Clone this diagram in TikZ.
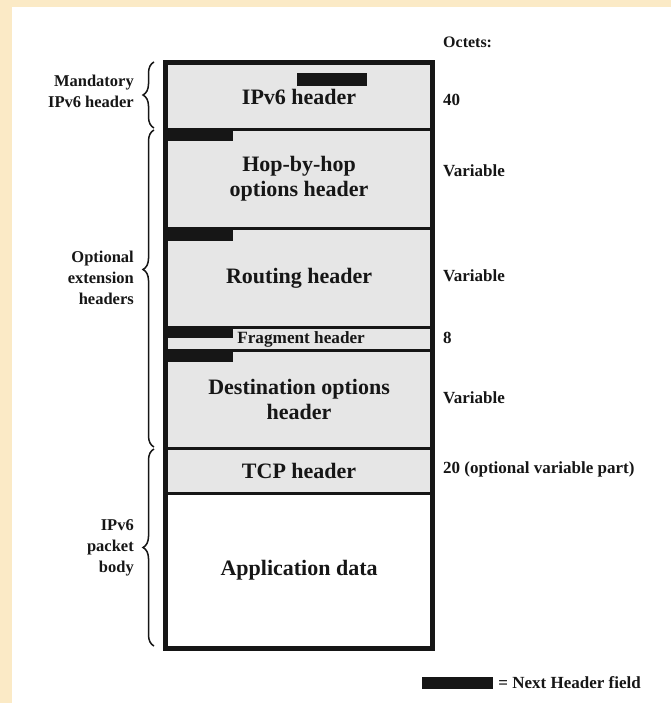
\documentclass[tikz,border=0pt]{standalone}
\usepackage{fontspec}
\setmainfont{Liberation Serif}
\usetikzlibrary{decorations.pathreplacing}
\definecolor{cream}{RGB}{251,234,198}
\definecolor{hdrgray}{RGB}{230,230,230}
\definecolor{ink}{RGB}{22,22,22}
\begin{document}
\begin{tikzpicture}[x=1pt,y=1pt,
  hdr/.style={draw=ink, line width=3.2pt, fill=hdrgray, minimum width=265pt,
    inner sep=0pt, align=center, text=ink, anchor=north west,
    font=\fontsize{22}{25}\selectfont\bfseries},
  body/.style={hdr, fill=white},
  nhbar/.style={fill=ink, draw=none, inner sep=0pt, minimum width=68pt, minimum height=13pt},
  side/.style={text=ink, inner sep=0pt, align=right, anchor=east,
    font=\fontsize{16.5}{21}\selectfont\bfseries},
  size/.style={text=ink, inner sep=0pt, anchor=west,
    font=\fontsize{17}{20}\selectfont\bfseries},
  curly/.style={draw=ink, line width=1.5pt, decorate,
    decoration={brace, amplitude=11pt}}
]
% page background and white sheet
\fill[cream] (0,0) rectangle (671,-703);
\fill[white] (12,-7) rectangle (671,-703);
\useasboundingbox (0,0) rectangle (671,-703);

% header stack
\node[hdr, minimum height=66pt] (ipv6) at (165,-62) {\raisebox{-4pt}{IPv6 header}};
\node[hdr, minimum height=99pt] (hop) at (165,-128) {Hop-by-hop\\options header};
\node[hdr, minimum height=99pt] (routing) at (165,-227) {Routing header};
\node[hdr, minimum height=23pt, font=\fontsize{17.2}{18}\selectfont\bfseries] (frag) at (165,-326) {\hspace*{4pt}Fragment header};
\node[hdr, minimum height=98pt] (dest) at (165,-349) {Destination options\\header};
\node[hdr, minimum height=45pt] (tcp) at (165,-447) {TCP header};
\node[body, minimum height=154pt] (app) at (165,-492) {Application data};
\draw[ink, line width=3.8pt] (ipv6.north west) rectangle (app.south east);

% next header fields
\node[nhbar, minimum width=70pt] (nh0) at (332,-79.5) {};
\node[nhbar, anchor=north west] (nh1) at (hop.north west) {};
\node[nhbar, anchor=north west, minimum height=14pt] (nh2) at (routing.north west) {};
\node[nhbar, anchor=north west, minimum height=12pt] (nh3) at (frag.north west) {};
\node[nhbar, anchor=north west] (nh4) at (dest.north west) {};

% octet counts
\node[size, font=\fontsize{16}{19}\selectfont\bfseries] (oct) at (443,-42) {Octets:};
\node[size] (s0) at (443,-100) {40};
\node[size] (s1) at (443,-171) {Variable};
\node[size] (s2) at (443,-276) {Variable};
\node[size] (s3) at (443,-338) {8};
\node[size] (s4) at (443,-398) {Variable};
\node[size] (s5) at (443,-469) {20 (optional variable part)};

% grouping braces and their labels
\coordinate (b0t) at (154,-62);   \coordinate (b0b) at (154,-128);
\coordinate (b1t) at (154,-130);  \coordinate (b1b) at (154,-447);
\coordinate (b2t) at (154,-449);  \coordinate (b2b) at (154,-646);
\draw[curly] (b0b) -- (b0t);
\draw[curly, decoration={aspect=0.56}] (b1b) -- (b1t);
\draw[curly] (b2b) -- (b2t);
\node[side] (g0) at (134,-91) {Mandatory\\IPv6 header};
\node[side] (g1) at (134,-278) {Optional\\extension\\headers};
\node[side] (g2) at (134,-548) {IPv6\\packet\\body};

% legend
\node[nhbar, minimum width=71pt, minimum height=12pt] (key) at (457.5,-683) {};
\node[size, anchor=west] (keytxt) at ([xshift=5pt]key.east) {= Next Header field};
\end{tikzpicture}
\end{document}
